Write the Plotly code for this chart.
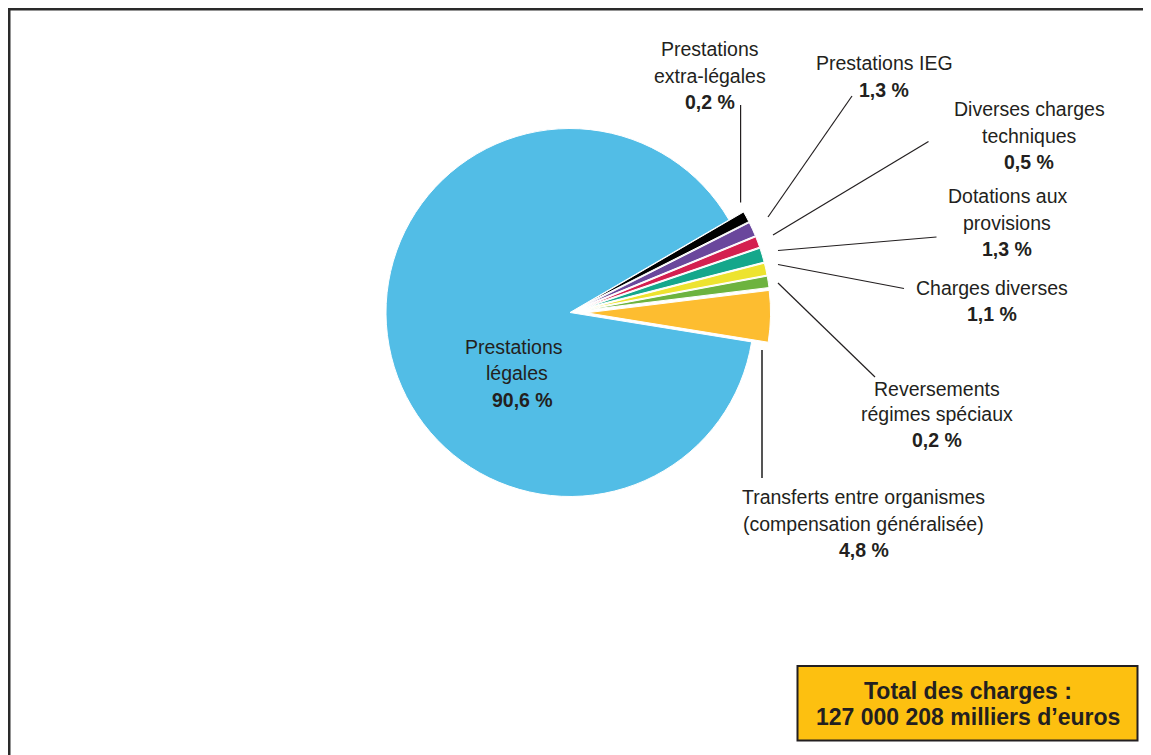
import plotly.graph_objects as go

# ---------------- data ----------------
categories = [
    "Transferts entre organismes (compensation généralisée)",
    "Reversements régimes spéciaux",
    "Charges diverses",
    "Dotations aux provisions",
    "Diverses charges techniques",
    "Prestations IEG",
    "Prestations extra-légales",
    "Prestations légales",
]
# shares printed on the chart (%)
shares_pct = [4.8, 0.2, 1.1, 1.3, 0.5, 1.3, 0.2, 90.6]
# slice sizes as actually drawn in the picture (small slices are widened in the original)
drawn_share = [4.5, 1.0, 1.05, 1.25, 0.95, 1.25, 0.95, 89.05]
# label text lines (the percentage line is added from shares_pct)
label_lines = [
    ["Transferts entre organismes", "(compensation généralisée)"],
    ["Reversements", "régimes spéciaux"],
    ["Charges diverses"],
    ["Dotations aux", "provisions"],
    ["Diverses charges", "techniques"],
    ["Prestations IEG"],
    ["Prestations", "extra-légales"],
    ["Prestations", "légales"],
]
total_lines = ["Total des charges :", "127 000 208 milliers d’euros"]

# ---------------- styles / layout ----------------
PAGE_OFF = 8                      # default body margin of the html page
W, H = 1151 - PAGE_OFF, 755 - PAGE_OFF
colors = ["#FDBD30", "#6DB33F", "#EDE32F", "#14A78B", "#D41F50", "#6A479C", "#000000", "#52BDE6"]
pulls = [0.09, 0.09, 0.09, 0.09, 0.09, 0.09, 0.09, 0.0]
TXT = "#231F20"
FONT = "Liberation Sans, Arial, Helvetica, sans-serif"
FS = 19.5

# pie placement in screen pixels
cx, cy, r = 570, 312.5, 184
half = r * (1 + max(pulls))

# label anchors: per-line x centres, first-line y, line gap (screen pixels)
label_pos = [
    ([863.5, 863.5, 863.5], 497, 26.5),
    ([936.5, 936.5, 936.5], 389, 25.3),
    ([992, 992], 287.5, 26),
    ([1007, 1007, 1007], 196, 26.5),
    ([1029, 1029, 1029], 109.3, 26.2),
    ([884, 884], 63.3, 26.7),
    ([710, 710, 710], 48.8, 26.7),
    ([514, 517, 522], 346.7, 26.7),
]
# leader lines (screen pixels): x0, y0, x1, y1, colour, width
leaders = [
    (762, 350, 762, 478, "#555555", 2),
    (875, 377, 778, 283, TXT, 1.2),
    (904, 288.5, 778, 264.5, TXT, 1.2),
    (936.5, 237, 778, 250.5, TXT, 1.2),
    (928.5, 141.5, 773, 235, TXT, 1.2),
    (852, 96, 768, 217, TXT, 1.2),
    (740.6, 105, 740.6, 202.5, TXT, 1.2),
]


def px(x):
    return (x - PAGE_OFF) / W


def py(y):
    return 1 - (y - PAGE_OFF) / H


fig = go.Figure(
    go.Pie(
        labels=categories,
        values=drawn_share,
        sort=False,
        direction="counterclockwise",
        rotation=83,
        pull=pulls,
        marker=dict(colors=colors, line=dict(color="white", width=1)),
        textinfo="none",
        hoverinfo="label",
        showlegend=False,
        domain=dict(x=[px(cx - half), px(cx + half)], y=[py(cy + half), py(cy - half)]),
    )
)

annotations = []
for lines, pct, (xs, y0, gap) in zip(label_lines, shares_pct, label_pos):
    all_lines = lines + [f"<b>{pct:.1f} %</b>".replace(".", ",")]
    for i, t in enumerate(all_lines):
        annotations.append(dict(
            x=px(xs[i]), y=py(y0 + i * gap), xref="paper", yref="paper",
            text=t, showarrow=False, xanchor="center", yanchor="middle",
            font=dict(family=FONT, size=FS, color=TXT),
        ))

shapes = []
for x0, y0, x1, y1, c, w in leaders:
    shapes.append(dict(type="line", xref="paper", yref="paper",
                       x0=px(x0), y0=py(y0), x1=px(x1), y1=py(y1),
                       line=dict(color=c, width=w)))

# outer frame (only top and left visible)
shapes.append(dict(type="rect", xref="paper", yref="paper",
                   x0=px(9), y0=py(775), x1=px(1170), y1=py(9),
                   line=dict(color="#2A2A2A", width=3), fillcolor="rgba(0,0,0,0)"))
# total box
bx0, by0, bx1, by1 = 797.5, 666, 1137.5, 740.5
shapes.append(dict(type="rect", xref="paper", yref="paper",
                   x0=px(bx0), y0=py(by1), x1=px(bx1), y1=py(by0),
                   line=dict(color=TXT, width=2), fillcolor="#FDC010", layer="below"))
for i, t in enumerate(total_lines):
    annotations.append(dict(
        x=px(968), y=py(691 + i * 26.3), xref="paper", yref="paper",
        text=f"<b>{t}</b>", showarrow=False, xanchor="center", yanchor="middle",
        font=dict(family=FONT, size=23, color=TXT),
    ))

fig.update_layout(
    width=W, height=H,
    margin=dict(l=0, r=0, t=0, b=0),
    paper_bgcolor="white", plot_bgcolor="white",
    annotations=annotations, shapes=shapes,
)

fig.write_html("out.html")
